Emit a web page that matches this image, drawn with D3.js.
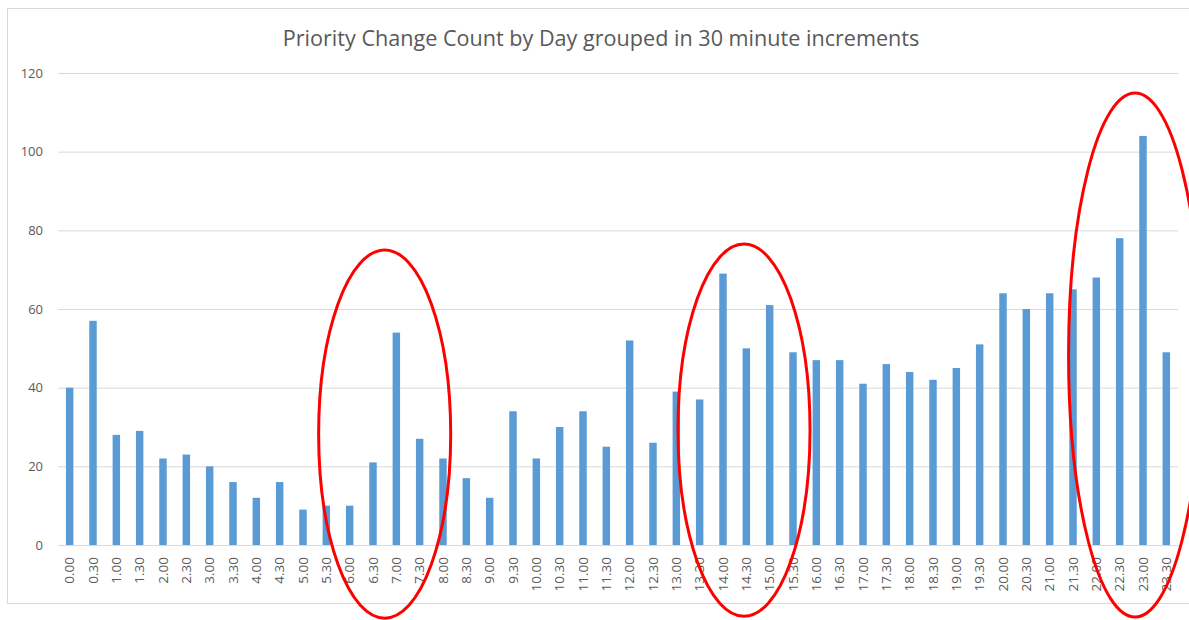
<!DOCTYPE html>
<html><head><meta charset="utf-8">
<script src="https://cdn.jsdelivr.net/npm/d3@7"></script>
<style>body{margin:0;background:#fff}svg{display:block}</style>
</head><body>
<svg id="c" width="1189" height="620"></svg>
<script>
const categories = ["0.00","0.30","1.00","1.30","2.00","2.30","3.00","3.30","4.00","4.30","5.00","5.30","6.00","6.30","7.00","7.30","8.00","8.30","9.00","9.30","10.00","10.30","11.00","11.30","12.00","12.30","13.00","13.30","14.00","14.30","15.00","15.30","16.00","16.30","17.00","17.30","18.00","18.30","19.00","19.30","20.00","20.30","21.00","21.30","22.00","22.30","23.00","23.30"];
const counts = [40,57,28,29,22,23,20,16,12,16,9,10,10,21,54,27,22,17,12,34,22,30,34,25,52,26,39,37,69,50,61,49,47,47,41,46,44,42,45,51,64,60,64,65,68,78,104,49];
const yTicks = [0,20,40,60,80,100,120];
const title = "Priority Change Count by Day grouped in 30 minute increments";
// annotation ellipses: centre as band index, centre value, radii in bands / values
const highlightCenters = [13.5, 28.9, 45.66];
const highlightValues = [28.2, 29.2, 48.3];
const highlightRx = [2.83, 2.83, 2.85];
const highlightRy = [46.8, 47.3, 66.6];

const svg = d3.select("#c");
const m = {l:58, r:11, t:73, b:75};
const W = 1189, H = 620;
const font = "'Open Sans', 'Liberation Sans', sans-serif";

svg.append("rect").attr("x",7.5).attr("y",8.5).attr("width",1190).attr("height",595)
  .attr("fill","#fff").attr("stroke","#d9d9d9");

const x = d3.scaleBand().domain(categories).range([m.l, W-m.r]).paddingInner(0.68).paddingOuter(0.34);
const y = d3.scaleLinear().domain([0,120]).range([H-m.b, m.t]);

svg.append("text").attr("x",601).attr("y",46).attr("text-anchor","middle")
  .attr("font-family",font).attr("font-size",21.6).attr("fill","#595959").text(title);

const yAxis = svg.append("g").attr("transform",`translate(${m.l},0)`)
  .call(d3.axisLeft(y).tickValues(yTicks).tickSize(-(W-m.r-m.l)).tickPadding(15));
yAxis.select(".domain").remove();
yAxis.selectAll(".tick line").attr("stroke","#d9d9d9");
yAxis.selectAll(".tick text").attr("font-family",font).attr("font-size",13).attr("fill","#595959");

svg.append("g").selectAll("rect").data(counts).join("rect")
  .attr("x",(d,i)=>x(categories[i])).attr("width",x.bandwidth())
  .attr("y",d=>y(d)).attr("height",d=>y(0)-y(d)).attr("fill","#5b9bd5");

const xAxis = svg.append("g").attr("transform",`translate(0,${y(0)})`)
  .call(d3.axisBottom(x).tickSize(0).tickPadding(0));
xAxis.select(".domain").attr("stroke","#d9d9d9");
xAxis.selectAll(".tick text").attr("font-family",font).attr("font-size",13.5).attr("fill","#595959")
  .attr("transform","rotate(-90)").attr("text-anchor","end").attr("dx","-12").attr("dy","0.35em").attr("y",0).attr("x",0);

const step = x.step();
const c0 = x(categories[0]) + x.bandwidth()/2;
svg.append("g").selectAll("ellipse").data(highlightCenters).join("ellipse")
  .attr("cx",(d)=>c0 + d*step)
  .attr("cy",(d,i)=>y(highlightValues[i]))
  .attr("rx",(d,i)=>highlightRx[i]*step)
  .attr("ry",(d,i)=>y(0)-y(highlightRy[i]))
  .attr("fill","none").attr("stroke","#ff0000").attr("stroke-width",3);
</script>
</body></html>
